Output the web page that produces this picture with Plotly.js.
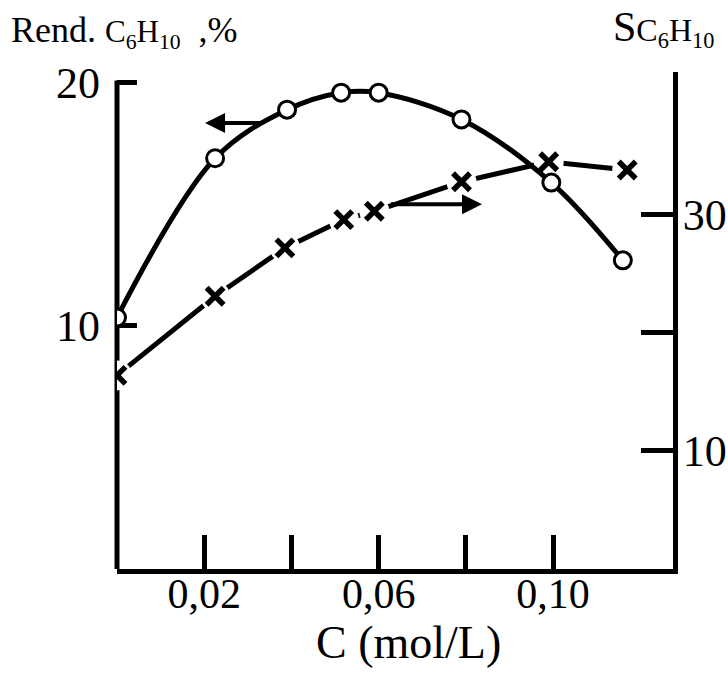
<!DOCTYPE html>
<html><head><meta charset="utf-8">
<script src="https://cdn.plot.ly/plotly-3.0.1.min.js"></script>
<style>html,body{margin:0;padding:0;background:#fff;}#chart{width:728px;height:686px;}</style>
</head><body><div id="chart"></div>
<script>
// Yield (Rend. C6H10, %) – left axis, open circles
const concRend = [0, 0.0225, 0.039, 0.0514, 0.060, 0.079, 0.0996, 0.116];
const rendC6H10 = [10.35, 16.9, 18.9, 19.6, 19.6, 18.5, 15.9, 12.7];
// Selectivity (S C6H10) – right axis, crosses
const concSel = [0, 0.0225, 0.0385, 0.052, 0.059, 0.079, 0.099, 0.117];
const selC6H10 = [16.4, 23.1, 27.2, 29.6, 30.3, 32.8, 34.5, 33.8];
// Ticks
const xTickVals = [0.02, 0.06, 0.10];
const xTickText = ['0,02', '0,06', '0,10'];
const xMinorVals = [0.04, 0.08];
const rendTickVals = [10, 20];
const rendTickText = ['10', '20'];
const selTickVals = [10, 30];
const selTickText = ['10', '30'];
const selMinorVals = [20];
// Arrows pointing to the axis each curve belongs to
const rendArrow = {from: [0.0333, 18.35], to: [0.0202, 18.35]};
const selArrow = {from: [0.0625, 30.9], to: [0.0837, 30.9]};

const FONT = 'Liberation Serif, Times New Roman, serif';

const traces = [
  {x: concSel, y: selC6H10, yaxis: 'y', mode: 'lines', line: {color: '#000', width: 5}, hoverinfo: 'skip'},
  {x: concSel, y: selC6H10, yaxis: 'y', mode: 'markers', marker: {symbol: 'circle', size: 30, color: '#fff', line: {width: 0}}, hoverinfo: 'skip'},
  {x: concSel, y: selC6H10, yaxis: 'y', mode: 'markers', marker: {symbol: 'x-thin', size: 17, color: '#000', line: {color: '#000', width: 5.5}}},
  {x: concRend, y: rendC6H10, yaxis: 'y2', mode: 'lines+markers',
   line: {color: '#000', width: 5, shape: 'spline', smoothing: 1},
   marker: {symbol: 'circle', size: 17, color: '#fff', line: {color: '#000', width: 3}}}
];

const layout = {
  width: 728, height: 686,
  margin: {l: 117, r: 55, t: 72, b: 117, pad: 0},
  paper_bgcolor: '#fff', plot_bgcolor: '#fff',
  showlegend: false,
  font: {family: FONT, color: '#000'},
  xaxis: {
    range: [0, 0.1275], showgrid: false, zeroline: false,
    showline: true, linecolor: '#000', linewidth: 5,
    tickmode: 'array', tickvals: xTickVals, ticktext: xTickText,
    ticks: 'inside', ticklen: 34, tickwidth: 5, tickcolor: '#000',
    minor: {tickmode: 'array', tickvals: xMinorVals, ticks: 'inside', ticklen: 34, tickwidth: 5, tickcolor: '#000', showgrid: false},
    ticklabelstandoff: -16,
    tickfont: {family: FONT, size: 42, color: '#000'}
  },
  yaxis: {
    side: 'right', range: [0, 42.1], showgrid: false, zeroline: false,
    showline: true, linecolor: '#000', linewidth: 5,
    tickmode: 'array', tickvals: selTickVals, ticktext: selTickText,
    ticks: 'inside', ticklen: 32, tickwidth: 5, tickcolor: '#000',
    minor: {tickmode: 'array', tickvals: selMinorVals, ticks: 'inside', ticklen: 32, tickwidth: 5, tickcolor: '#000', showgrid: false},
    ticklabelstandoff: -4,
    tickfont: {family: FONT, size: 44, color: '#000'}
  },
  yaxis2: {
    overlaying: 'y', side: 'left', range: [0, 20.45], showgrid: false, zeroline: false,
    showline: false, layer: 'below traces',
    tickmode: 'array', tickvals: rendTickVals, ticktext: rendTickText,
    ticks: 'inside', ticklen: 20, tickwidth: 5, tickcolor: '#000',
    ticklabelstandoff: 16,
    tickfont: {family: FONT, size: 44, color: '#000'}
  },
  shapes: [
    {type: 'line', xref: 'paper', x0: 0, x1: 0, yref: 'y2', y0: 0, y1: 20.1,
     line: {color: '#000', width: 5}, layer: 'below'}
  ],
  annotations: [
    {xref: 'paper', yref: 'paper', x: -0.194, y: 1.08, xanchor: 'left', yanchor: 'middle', showarrow: false,
     text: 'Rend. <span style="font-size:31px">C<sub>6</sub>H<sub>10</sub></span>  ,%', font: {family: FONT, size: 36, color: '#000'}},
    {xref: 'paper', yref: 'paper', x: 0.888, y: 1.088, xanchor: 'left', yanchor: 'middle', showarrow: false,
     text: 'S<span style="font-size:32px">C<sub>6</sub>H<sub>10</sub></span>', font: {family: FONT, size: 42, color: '#000'}},
    {xref: 'paper', yref: 'paper', x: 0.525, y: -0.148, xanchor: 'center', yanchor: 'middle', showarrow: false,
     text: 'C (mol/L)', font: {family: FONT, size: 46, color: '#000'}},
    {xref: 'x', yref: 'y2', axref: 'x', ayref: 'y2', x: rendArrow.to[0], y: rendArrow.to[1], ax: rendArrow.from[0], ay: rendArrow.from[1],
     text: '', showarrow: true, arrowhead: 2, arrowsize: 1, arrowwidth: 4, arrowcolor: '#000', standoff: 0, startstandoff: 0},
    {xref: 'x', yref: 'y', axref: 'x', ayref: 'y', x: selArrow.to[0], y: selArrow.to[1], ax: selArrow.from[0], ay: selArrow.from[1],
     text: '', showarrow: true, arrowhead: 2, arrowsize: 1, arrowwidth: 4, arrowcolor: '#000', standoff: 0, startstandoff: 0}
  ]
};

Plotly.newPlot('chart', traces, layout, {staticPlot: true, displayModeBar: false});
</script>
</body></html>
